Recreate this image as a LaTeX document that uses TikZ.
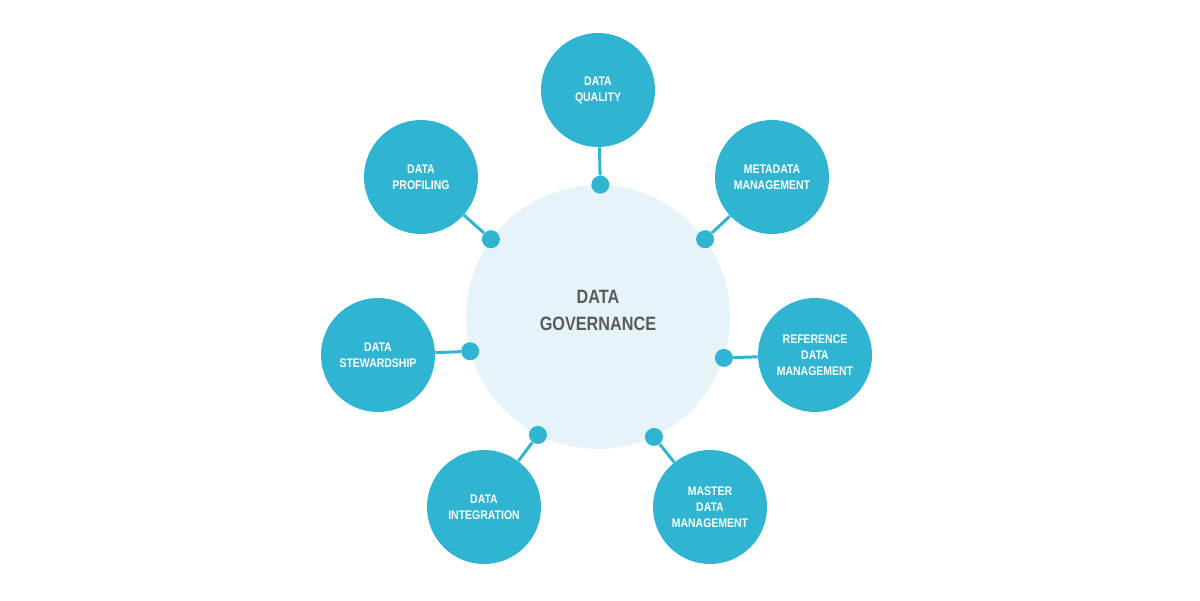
\documentclass[tikz,border=0pt]{standalone}
\usepackage{fontspec}
\setmainfont{Liberation Sans}[FakeStretch=0.84]
\usepackage{tikz}
\usetikzlibrary{positioning}

\definecolor{govblue}{HTML}{2FB5D2}
\definecolor{govpale}{HTML}{E6F3F8}
\definecolor{govtext}{HTML}{5A5A5A}

\tikzset{
  topic/.style={circle, fill=govblue, minimum size=22.8mm, inner sep=0pt,
    text=white, align=center, font=\fontsize{7.1}{9.1}\selectfont\bfseries},
  hub/.style={circle, fill=govpale, minimum size=52.8mm, inner sep=0pt,
    text=govtext, align=center, text depth=2.8mm,
    font=\fontsize{11}{15.4}\selectfont\bfseries},
  joint/.style={circle, fill=govblue, minimum size=3.6mm, inner sep=0pt},
  link/.style={draw=govblue, line width=1.7pt}
}

\begin{document}
\begin{tikzpicture}[x=0.2mm, y=-0.2mm]

\useasboundingbox (0,0) rectangle (1200,600);

% Centre
\node[hub] (gov) at (598,317) {DATA\\GOVERNANCE};

% Topics round the centre
\node[topic] (quality) at (598,90) {DATA\\QUALITY};
\node[topic] (meta) at (772,177) {METADATA\\MANAGEMENT};
\node[topic] (ref) at (815,355) {REFERENCE\\DATA\\MANAGEMENT};
\node[topic] (master) at (710,507) {MASTER\\DATA\\MANAGEMENT};
\node[topic] (integ) at (484,507) {DATA\\INTEGRATION};
\node[topic] (stew) at (378,355) {DATA\\STEWARDSHIP};
\node[topic] (prof) at (421,177) {DATA\\PROFILING};

% Joints on the rim and their links
\foreach \ang/\tgt in {89/quality, 36.5/meta, -18/ref, -65/master,
                       -117/integ, -165/stew, 144/prof} {
  \node[joint] (j-\tgt) at (gov.\ang) {};
  \draw[link] (j-\tgt) -- (\tgt);
}

\end{tikzpicture}
\end{document}
